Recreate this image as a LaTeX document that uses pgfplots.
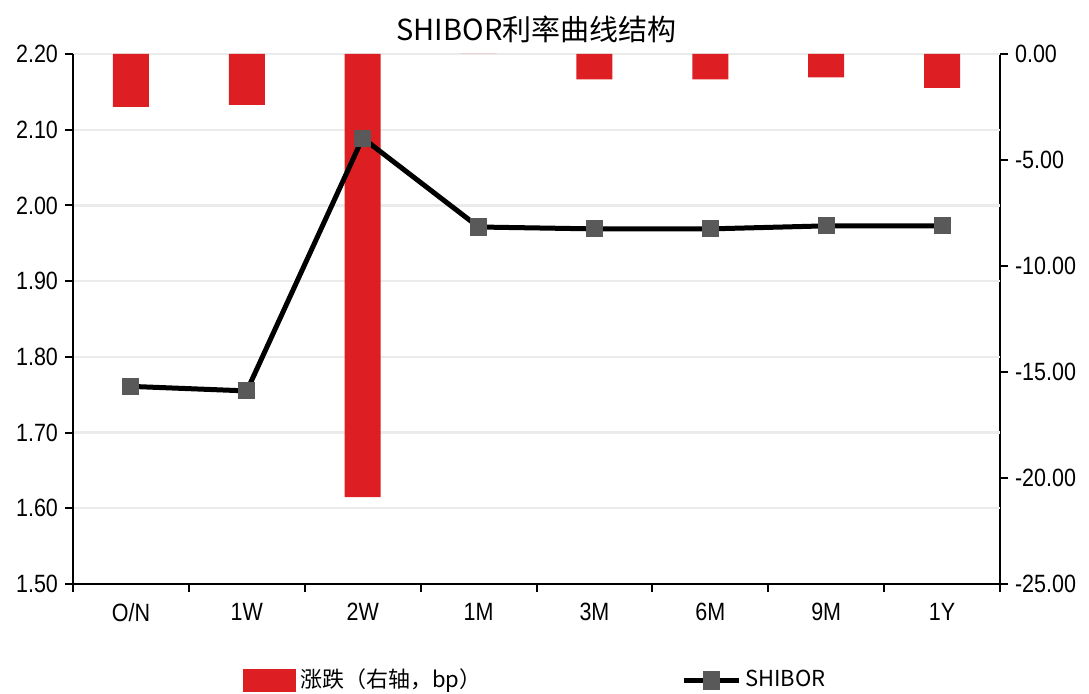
\documentclass[border=0pt]{standalone}
\usepackage{pgfplots}
\pgfplotsset{compat=1.18}
\usepackage{fontspec}
\setmainfont{Liberation Sans}[FakeStretch=0.86]
\newfontfamily\cjk{Noto Sans CJK SC}
\definecolor{barred}{RGB}{221,31,35}
\definecolor{mkgray}{RGB}{89,89,89}
\definecolor{gridgray}{RGB}{235,235,235}
\begin{document}
\begin{tikzpicture}
\pgfplotsset{
  base/.style={
    scale only axis, width=463.5pt, height=265pt,
    xmin=-0.5, xmax=7.5,
    axis line style={black, line width=1pt},
    tick style={black, line width=1pt},
    tick align=outside,
    major tick length=4pt,
    tick label style={font=\fontsize{12.5}{14}\selectfont},
    /pgf/number format/assume math mode=true,
    /pgf/number format/fixed,
    /pgf/number format/fixed zerofill,
    /pgf/number format/precision=2,
  },
}
% bars on the right axis
\begin{axis}[base, name=ax,
  axis y line*=right, axis x line=none,
  ymin=-25, ymax=0,
  ytick={-25,-20,-15,-10,-5,0},
  extra y ticks={-21.4286,-17.8571,-14.2857,-10.7143,-7.1429,-3.5714,0},
  extra y tick labels={},
  extra y tick style={grid=major, major grid style={gridgray, line width=1.2pt}, major tick length=0pt},
]
\addplot[ybar, bar width=0.31, bar shift=0pt, fill=barred, draw=none]
  coordinates {(0,-2.5) (1,-2.4) (2,-20.9) (3,0) (4,-1.2) (5,-1.2) (6,-1.1) (7,-1.6)};
\end{axis}
% line on the left axis
\begin{axis}[base,
  axis y line*=left, axis x line*=bottom,
  ymin=1.5, ymax=2.2,
  ytick={1.5,1.6,1.7,1.8,1.9,2.0,2.1,2.2},
  xtick={-0.5,0.5,1.5,2.5,3.5,4.5,5.5,6.5,7.5},
  xticklabels={},
  extra x ticks={0,1,2,3,4,5,6,7},
  extra x tick labels={O/N,1W,2W,1M,3M,6M,9M,1Y},
  extra x tick style={major tick length=0pt, xticklabel style={yshift=-6pt}},
  legend columns=2,
  legend style={draw=none, fill=none, at={(0.5,0)}, anchor=center, yshift=-48pt,
    font=\cjk\fontsize{11}{13}\selectfont,
    /tikz/every even column/.append style={column sep=98pt}},
  legend entries={涨跌（右轴，bp）, SHIBOR},
]
\addlegendimage{legend image code/.code={\fill[barred] (0pt,-5.5pt) rectangle (26pt,5.5pt);}}
\addlegendimage{legend image code/.code={\draw[black, line width=2.5pt] (0pt,0pt) -- (27.5pt,0pt); \fill[mkgray] (9.75pt,-4.5pt) rectangle (17.75pt,4.5pt);}}
\addplot[black, line width=2.5pt, mark=square*, mark size=4pt,
  mark options={fill=mkgray, draw=mkgray, line width=0.5pt}, forget plot]
  coordinates {(0,1.761) (1,1.755) (2,2.089) (3,1.9715) (4,1.969) (5,1.969) (6,1.973) (7,1.973)};
\end{axis}
\node[font=\cjk\fontsize{14.5}{16}\selectfont, anchor=center] at ([yshift=12.5pt]ax.north) {SHIBOR利率曲线结构};
\pgfresetboundingbox
\path ([xshift=-36.5pt,yshift=-54.5pt]ax.south west) rectangle ([xshift=44.5pt,yshift=27pt]ax.north east);
\end{tikzpicture}
\end{document}
